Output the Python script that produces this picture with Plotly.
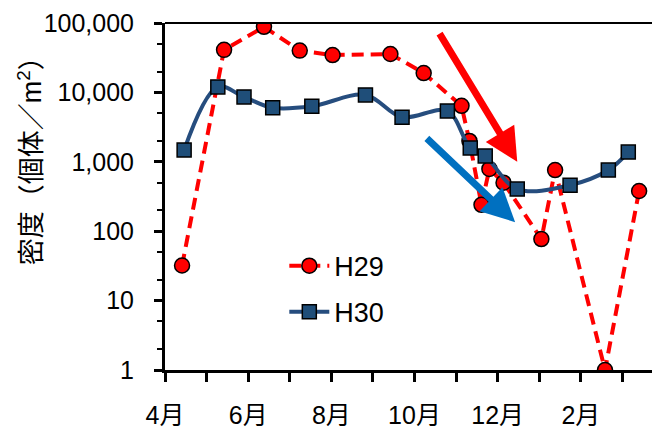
import plotly.graph_objects as go
import math

# months counted from April 1 (0 = 4月, 1 = 5月, ...)
h29_x = [0.41, 1.42, 2.38, 3.24, 4.03, 5.42, 6.22, 7.13, 7.32, 7.61, 7.80, 8.14, 9.05, 9.38, 10.58, 11.40]
h29_y = [32, 41000, 88000, 40000, 34500, 35700, 19000, 6400, 2000, 240, 790, 500, 77, 760, 1, 380]

h30_x = [0.46, 1.27, 1.90, 2.59, 3.53, 4.82, 5.70, 6.79, 7.34, 7.70, 8.47, 9.74, 10.66, 11.14]
h30_y = [1480, 12000, 8600, 6000, 6300, 9200, 4400, 5400, 1580, 1210, 405, 460, 760, 1380]

x_tickvals = list(range(12))
x_ticktext = ["4月", "", "6月", "", "8月", "", "10月", "", "12月", "", "2月", ""]
y_tickvals = [1, 10, 100, 1000, 10000, 100000]
y_ticktext = ["1", "10", "100", "1,000", "10,000", "100,000"]

# arrows (tail -> tip) in data units
red_arrow = dict(tail=(6.58, 74000), tip=(8.47, 1000))
blue_arrow = dict(tail=(6.26, 2280), tip=(8.42, 135))

FONT = "Liberation Sans Narrow, Liberation Sans, Noto Sans CJK JP"

fig = go.Figure()
fig.add_trace(go.Scatter(
    x=h29_x, y=h29_y, name="H29", mode="lines+markers", legendgroup="a",
    line=dict(color="#FF0000", width=4, dash="12px,7px"),
    marker=dict(symbol="circle", size=15, color="#FF0000", line=dict(color="black", width=1.5)),
))
fig.add_trace(go.Scatter(
    x=h30_x, y=h30_y, name="H30", mode="lines+markers", legendgroup="b",
    line=dict(color="#264D7E", width=4, shape="spline", smoothing=1),
    marker=dict(symbol="square", size=14, color="#1F4E79", line=dict(color="black", width=1.5)),
))

for arr, col in [(red_arrow, "#FF0000"), (blue_arrow, "#0070C0")]:
    fig.add_annotation(
        x=arr["tip"][0], y=math.log10(arr["tip"][1]),
        ax=arr["tail"][0], ay=math.log10(arr["tail"][1]),
        xref="x", yref="y", axref="x", ayref="y",
        text="", showarrow=True, arrowhead=2, arrowsize=0.95, arrowwidth=7,
        arrowcolor=col, standoff=0,
    )

fig.add_annotation(
    text="密度（個体／m<sup>2</sup>）", xref="paper", yref="paper",
    x=-0.277, y=0.622, xanchor="center", yanchor="middle", textangle=-90, showarrow=False,
    font=dict(family=FONT, size=27, color="black"),
)

fig.update_layout(
    width=652, height=432,
    margin=dict(l=165, r=0, t=23, b=62),
    plot_bgcolor="white", paper_bgcolor="white",
    font=dict(family=FONT, size=25, color="black"),
    showlegend=True,
    legend=dict(x=0.245, y=0.37, xanchor="left", yanchor="top",
                font=dict(family=FONT, size=27), bgcolor="rgba(0,0,0,0)",
                tracegroupgap=8, traceorder="grouped", itemwidth=40),
    xaxis=dict(range=[0, 11.71], tickmode="array", tickvals=x_tickvals, ticktext=x_ticktext,
               showline=True, linecolor="black", linewidth=3, mirror=False,
               ticks="outside", ticklen=9, tickwidth=3, tickcolor="black",
               showgrid=False, zeroline=False, ticklabelstandoff=12),
    yaxis=dict(type="log", range=[0, 5], tickmode="array", tickvals=y_tickvals, ticktext=y_ticktext,
               showline=True, linecolor="black", linewidth=3,
               ticks="outside", ticklen=8, tickwidth=3, tickcolor="black",
               minor=dict(ticks="outside", ticklen=5, tickwidth=2, tickcolor="black", showgrid=False),
               showgrid=False, zeroline=False, ticklabelstandoff=15),
)
# top border line
fig.add_shape(type="line", xref="paper", yref="paper", x0=0, x1=1, y0=1, y1=1,
              line=dict(color="black", width=2))

fig.write_html("out.html")
